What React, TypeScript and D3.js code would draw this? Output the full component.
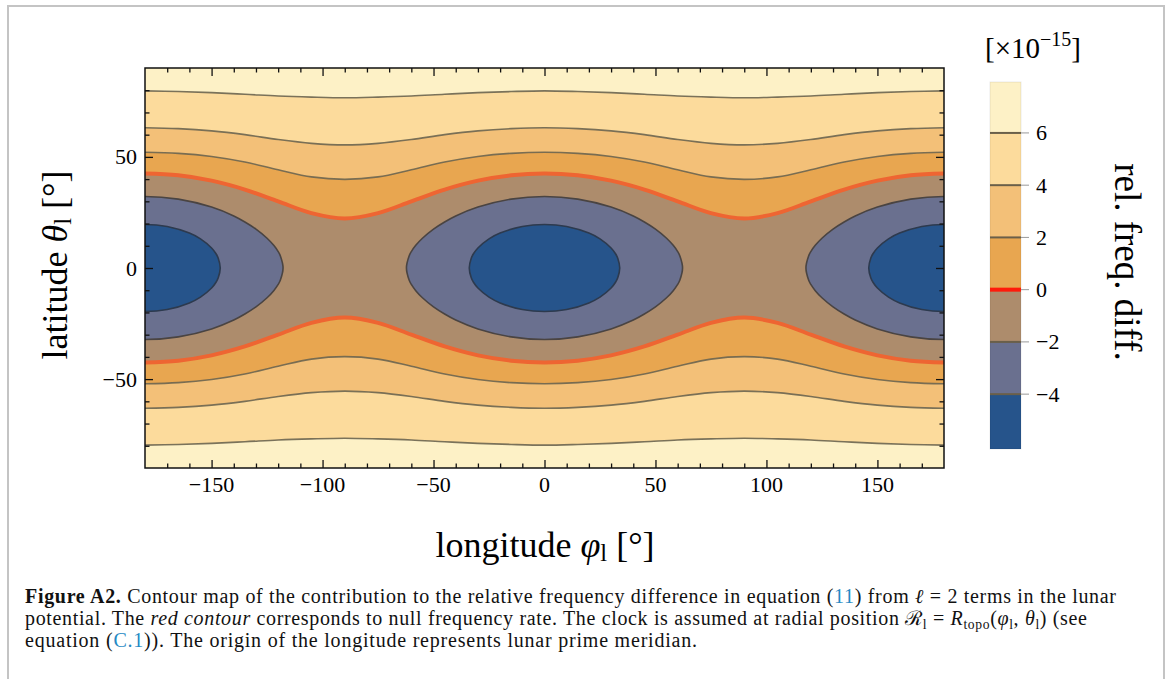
import React, { useEffect, useRef } from 'react';
import * as d3 from 'd3';

const longitudes = [-180, -165, -150, -135, -120, -105, -90, -75, -60, -45, -30, -15, 0, 15, 30, 45, 60, 75, 90, 105, 120, 135, 150, 165, 180];

// northern latitude of each open contour at those longitudes (south side is the mirror)
const lat6 = [79.7, 79.4, 78.9, 78.2, 77.4, 76.9, 76.6, 76.9, 77.4, 78.2, 78.9, 79.4, 79.7, 79.4, 78.9, 78.2, 77.4, 76.9, 76.6, 76.9, 77.4, 78.2, 78.9, 79.4, 79.7];
const lat4 = [63.1, 62.7, 61.7, 60.0, 57.8, 56.1, 55.4, 56.1, 57.8, 60.0, 61.7, 62.7, 63.1, 62.7, 61.7, 60.0, 57.8, 56.1, 55.4, 56.1, 57.8, 60.0, 61.7, 62.7, 63.1];
const lat2 = [52.1, 51.6, 50.2, 47.7, 44.2, 41.0, 39.9, 41.0, 44.2, 47.7, 50.2, 51.6, 52.1, 51.6, 50.2, 47.7, 44.2, 41.0, 39.9, 41.0, 44.2, 47.7, 50.2, 51.6, 52.1];
const lat0 = [42.5, 41.7, 39.3, 35.3, 30.0, 24.7, 22.3, 24.7, 30.0, 35.3, 39.3, 41.7, 42.5, 41.7, 39.3, 35.3, 30.0, 24.7, 22.3, 24.7, 30.0, 35.3, 39.3, 41.7, 42.5];

// closed contours round the minima, one quadrant each (offset in lon, lat)
const loopM2Lon = [0, 15, 30, 40, 45, 50, 55, 58, 60, 61, 62.2];
const loopM2Lat = [32.2, 31.0, 27.4, 23.4, 20.7, 17.5, 13.4, 10.2, 7.4, 5.4, 0];
const loopM4Lon = [0, 10, 20, 25, 30, 32, 33, 33.9];
const loopM4Lat = [19.6, 18.7, 15.7, 13.1, 9.0, 6.4, 4.4, 0];
const minimaLon = [-180, 0, 180];

const bandEdges = [-6.1, -4, -2, 0, 2, 4, 6, 7.95];
const bandColors = ['#26548b', '#6a708f', '#ad8c6c', '#e8a650', '#f3c078', '#fcdb9c', '#fdf1c6'];
const cbTicks = [6, 4, 2, 0, -2, -4];
const xTicks = [-150, -100, -50, 0, 50, 100, 150];
const yTicks = [-50, 0, 50];

const SERIF = "'Liberation Serif', 'DejaVu Serif', serif";
const fmt = (v: number) => (v < 0 ? '\u2212' + Math.abs(v) : String(v));

type Run = [string, string?];

function addRuns(t: any, runs: Run[]) {
  let shifted = 0;
  runs.forEach(([s, style]) => {
    const sp = t.append('tspan').text(s);
    if (style === 'sub') {
      sp.attr('font-size', '0.68em').attr('dy', 4 - shifted);
      shifted = 4;
      return;
    }
    if (shifted) { sp.attr('dy', -shifted); shifted = 0; }
    if (style === 'b') sp.attr('font-weight', 'bold');
    if (style === 'i') sp.attr('font-style', 'italic');
    if (style === 'link') sp.attr('fill', '#2589c4');
  });
}

function quadLoop(lons: number[], lats: number[], c: number): [number, number][] {
  const n = lons.length;
  const pts: [number, number][] = [];
  for (let i = 0; i < n; i++) pts.push([c + lons[i], lats[i]]);
  for (let i = n - 2; i >= 0; i--) pts.push([c + lons[i], -lats[i]]);
  for (let i = 1; i < n; i++) pts.push([c - lons[i], -lats[i]]);
  for (let i = n - 2; i >= 1; i--) pts.push([c - lons[i], lats[i]]);
  return pts;
}

export default function App() {
  const ref = useRef<SVGSVGElement>(null);

  useEffect(() => {
    const svg = d3.select(ref.current);
    svg.selectAll('*').remove();

    const left = 145, right = 944, top = 68, bottom = 468;
    const x = d3.scaleLinear().domain([-180, 180]).range([left, right]);
    const y = d3.scaleLinear().domain([-90, 90]).range([bottom, top]);

    // outer figure frame
    svg.append('rect').attr('x', 8).attr('y', 6).attr('width', 1156).attr('height', 720)
      .attr('fill', '#fff').attr('stroke', '#c4c4c4').attr('stroke-width', 2);

    svg.append('defs').append('clipPath').attr('id', 'plotclip')
      .append('rect').attr('x', left).attr('y', top).attr('width', right - left).attr('height', bottom - top);

    const g = svg.append('g').attr('clip-path', 'url(#plotclip)');

    g.append('rect').attr('x', left).attr('y', top).attr('width', right - left).attr('height', bottom - top)
      .attr('fill', bandColors[6]);

    const area = d3.area<number>()
      .x((d, i) => x(longitudes[i]))
      .y0(d => y(-d))
      .y1(d => y(d))
      .curve(d3.curveCatmullRom);
    const north = d3.line<number>().x((d, i) => x(longitudes[i])).y(d => y(d)).curve(d3.curveCatmullRom);
    const south = d3.line<number>().x((d, i) => x(longitudes[i])).y(d => y(-d)).curve(d3.curveCatmullRom);
    const loop = d3.line<[number, number]>().x(p => x(p[0])).y(p => y(p[1])).curve(d3.curveCatmullRomClosed.alpha(0.5));

    const open = [lat6, lat4, lat2, lat0];
    open.forEach((lats, k) => {
      g.append('path').attr('d', area(lats)).attr('fill', bandColors[5 - k]);
    });

    minimaLon.forEach(c => {
      g.append('path').attr('d', loop(quadLoop(loopM2Lon, loopM2Lat, c))).attr('fill', bandColors[1])
        .attr('stroke', '#4a4442').attr('stroke-width', 1.6);
    });
    minimaLon.forEach(c => {
      g.append('path').attr('d', loop(quadLoop(loopM4Lon, loopM4Lat, c))).attr('fill', bandColors[0])
        .attr('stroke', '#2d3a4e').attr('stroke-width', 1.6);
    });

    open.forEach((lats, k) => {
      const red = k === 3;
      [north, south].forEach(ln => {
        g.append('path').attr('d', ln(lats)).attr('fill', 'none')
          .attr('stroke', red ? '#ee6532' : '#6c6550')
          .attr('stroke-opacity', red ? 1 : 0.9)
          .attr('stroke-width', red ? 4 : 1.6);
      });
    });

    // ticks, pointing inward on all four sides
    const xMinor = d3.range(-170, 180, 10).filter(v => v % 50 !== 0);
    const yMinor = d3.range(-80, 90, 10).filter(v => v % 50 !== 0);
    const tickGroup = (axis: any, tx: number, ty: number) => {
      const a = svg.append('g').attr('transform', `translate(${tx},${ty})`).call(axis);
      a.select('.domain').remove();
      a.selectAll('text').remove();
      a.selectAll('line').attr('stroke', '#111').attr('stroke-width', 1.3);
    };
    tickGroup(d3.axisBottom(x).tickValues(xTicks).tickSize(-8), 0, bottom);
    tickGroup(d3.axisBottom(x).tickValues(xMinor).tickSize(-4.5), 0, bottom);
    tickGroup(d3.axisTop(x).tickValues(xTicks).tickSize(-8), 0, top);
    tickGroup(d3.axisTop(x).tickValues(xMinor).tickSize(-4.5), 0, top);
    tickGroup(d3.axisLeft(y).tickValues(yTicks).tickSize(-8), left, 0);
    tickGroup(d3.axisLeft(y).tickValues(yMinor).tickSize(-4.5), left, 0);
    tickGroup(d3.axisRight(y).tickValues(yTicks).tickSize(-8), right, 0);
    tickGroup(d3.axisRight(y).tickValues(yMinor).tickSize(-4.5), right, 0);

    svg.append('rect').attr('x', left).attr('y', top).attr('width', right - left).attr('height', bottom - top)
      .attr('fill', 'none').attr('stroke', '#111').attr('stroke-width', 1.5);

    svg.append('g').selectAll('text').data(xTicks).enter().append('text')
      .attr('x', d => x(d)).attr('y', 492).attr('text-anchor', 'middle')
      .attr('font-family', SERIF).attr('font-size', 22).text(d => fmt(d));
    svg.append('g').selectAll('text').data(yTicks).enter().append('text')
      .attr('x', 137).attr('y', d => y(d) + 7.5).attr('text-anchor', 'end')
      .attr('font-family', SERIF).attr('font-size', 22).text(d => fmt(d));

    // axis titles
    const xl = svg.append('text').attr('x', 545).attr('y', 557).attr('text-anchor', 'middle')
      .attr('font-family', SERIF).attr('font-size', 36);
    addRuns(xl, [['longitude '], ['\u03c6', 'i'], ['l', 'sub'], [' [\u00b0]']]);
    const yl = svg.append('text').attr('transform', 'translate(67,265) rotate(-90)').attr('text-anchor', 'middle')
      .attr('font-family', SERIF).attr('font-size', 36);
    addRuns(yl, [['latitude '], ['\u03b8', 'i'], ['l', 'sub'], [' [\u00b0]']]);

    // colour bar
    const cb = d3.scaleLinear().domain([-6.1, 7.95]).range([449, 82]);
    const cbx = 990, cbw = 31;
    const cg = svg.append('g');
    bandColors.forEach((col, i) => {
      cg.append('rect').attr('x', cbx).attr('width', cbw)
        .attr('y', cb(bandEdges[i + 1])).attr('height', cb(bandEdges[i]) - cb(bandEdges[i + 1]))
        .attr('fill', col);
    });
    cg.append('rect').attr('x', cbx).attr('y', cb(7.95)).attr('width', cbw).attr('height', cb(-6.1) - cb(7.95))
      .attr('fill', 'none').attr('stroke', '#000').attr('stroke-opacity', 0.08);
    cbTicks.forEach(v => {
      cg.append('line').attr('x1', cbx).attr('x2', cbx + cbw).attr('y1', cb(v)).attr('y2', cb(v))
        .attr('stroke', v === 0 ? '#ff1a0a' : '#6a5f49').attr('stroke-width', v === 0 ? 4 : 2);
      cg.append('line').attr('x1', cbx + cbw).attr('x2', cbx + cbw + 8).attr('y1', cb(v)).attr('y2', cb(v))
        .attr('stroke', '#999').attr('stroke-width', 1);
      cg.append('text').attr('x', 1036).attr('y', cb(v) + 7.5).attr('font-family', SERIF).attr('font-size', 22)
        .text(fmt(v));
    });

    const ct = svg.append('text').attr('x', 985).attr('y', 58).attr('font-family', SERIF).attr('font-size', 29);
    ct.append('tspan').text('[\u00d710');
    ct.append('tspan').attr('font-size', 20).attr('dy', -12).text('\u221215');
    ct.append('tspan').attr('dy', 12).text(']');

    svg.append('text').attr('transform', 'translate(1115,262) rotate(90)').attr('text-anchor', 'middle')
      .attr('font-family', SERIF).attr('font-size', 37).text('rel. freq. diff.');

    // caption
    const cap = (yy: number, len: number, runs: Run[]) => {
      const t = svg.append('text').attr('x', 25).attr('y', yy).attr('font-family', SERIF).attr('font-size', 20)
        .attr('fill', '#111').attr('textLength', len).attr('lengthAdjust', 'spacing');
      addRuns(t, runs);
    };
    cap(603, 1091, [['Figure A2.', 'b'], [' Contour map of the contribution to the relative frequency difference in equation ('],
      ['11', 'link'], [') from '], ['\u2113', 'i'], [' = 2 terms in the lunar']]);
    cap(625, 1062, [['potential. The '], ['red contour', 'i'], [' corresponds to null frequency rate. The clock is assumed at radial position \u211b'],
      ['l', 'sub'], [' = '], ['R', 'i'], ['topo', 'sub'], ['('], ['\u03c6', 'i'], ['l', 'sub'], [', '], ['\u03b8', 'i'], ['l', 'sub'], [') (see']]);
    cap(647, 672, [['equation ('], ['C.1', 'link'], [')). The origin of the longitude represents lunar prime meridian.']]);
  }, []);

  return (
    <svg ref={ref} width={1171} height={679}
      style={{ position: 'absolute', left: 0, top: 0, background: '#fff' }} />
  );
}
